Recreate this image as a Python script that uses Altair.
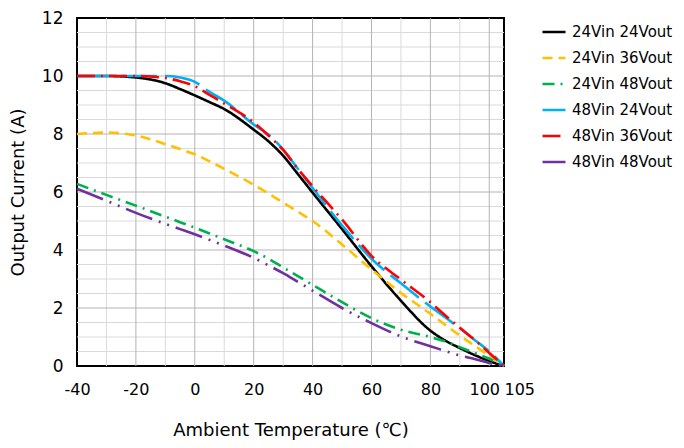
import altair as alt
import pandas as pd

# Ambient temperature (°C) sample points
temps = [-40, -30, -20, -10, -5, 0, 5, 10, 20, 25, 30, 35, 40, 50, 60, 70, 80, 85, 90, 95, 100, 105]

# Output current (A) per series
i_24in_24out = [10, 10, 9.95, 9.75, 9.55, 9.33, 9.1, 8.86, 8.15, 7.75, 7.25, 6.62, 5.98, 4.72, 3.44, 2.25, 1.22, 0.88, 0.62, 0.38, 0.17, 0]
i_24in_36out = [8.0, 8.05, 7.95, 7.65, 7.48, 7.3, 7.06, 6.8, 6.25, 5.95, 5.63, 5.32, 5.0, 4.19, 3.33, 2.52, 1.8, 1.42, 1.05, 0.7, 0.35, 0]
i_24in_48out = [6.28, 5.9, 5.53, 5.15, 4.96, 4.77, 4.57, 4.37, 3.96, 3.7, 3.4, 3.1, 2.8, 2.2, 1.65, 1.25, 1.0, 0.85, 0.65, 0.45, 0.25, 0]
i_48in_24out = [10, 10, 10, 10, 9.95, 9.8, 9.45, 9.15, 8.33, 7.98, 7.46, 6.8, 6.14, 4.85, 3.7, 2.85, 2.05, 1.68, 1.3, 0.9, 0.5, 0]
i_48in_36out = [10, 10, 10, 9.93, 9.82, 9.65, 9.35, 9.05, 8.4, 7.95, 7.45, 6.8, 6.2, 5.05, 3.8, 2.98, 2.2, 1.75, 1.32, 0.9, 0.45, 0]
i_48in_48out = [6.11, 5.7, 5.28, 4.9, 4.72, 4.54, 4.35, 4.15, 3.73, 3.47, 3.2, 2.9, 2.6, 2.0, 1.48, 1.02, 0.68, 0.52, 0.36, 0.24, 0.1, 0]

series_names = ["24Vin 24Vout", "24Vin 36Vout", "24Vin 48Vout",
                "48Vin 24Vout", "48Vin 36Vout", "48Vin 48Vout"]
series_values = [i_24in_24out, i_24in_36out, i_24in_48out,
                 i_48in_24out, i_48in_36out, i_48in_48out]
series_colors = ["#000000", "#FFC000", "#00B050", "#00B0F0", "#FF0000", "#7030A0"]
series_dashes = [[1, 0], [10, 6], [12, 6, 2, 6], [36, 8], [18, 6, 2, 6], [28, 7, 2, 7, 2, 7]]

# Axis ticks and grid lines
x_ticks = [-40, -20, 0, 20, 40, 60, 80, 100, 105]
y_ticks = [0, 2, 4, 6, 8, 10, 12]
x_major_grid = [-20, 0, 20, 40, 60, 80, 100]
x_minor_grid = [-30, -10, 10, 30, 50, 70, 90]
y_major_grid = [2, 4, 6, 8, 10]
y_minor_grid = [0.5, 1, 1.5, 2.5, 3, 3.5, 4.5, 5, 5.5, 6.5, 7, 7.5, 8.5, 9, 9.5, 10.5, 11, 11.5]

rows = []
for name, vals in zip(series_names, series_values):
    for t, v in zip(temps, vals):
        rows.append({"T": t, "I": v, "series": name, "order": series_names.index(name)})
df = pd.DataFrame(rows)

FONT = "DejaVu Sans"

x_scale = alt.Scale(domain=[-40, 105], nice=False, zero=False)
y_scale = alt.Scale(domain=[0, 12], nice=False)

x_axis = alt.Axis(
    values=x_ticks, title="Ambient Temperature (℃)", grid=False, ticks=False, domain=False,
    labelExpr="'' + datum.value",
    labelFontSize=16, labelFont=FONT, labelColor="black", labelPadding=15,
    labelOverlap=False, labelFlush=False, labelBound=False,
    labelAlign={"condition": {"test": "datum.value == 105", "value": "left"}, "value": "center"},
    labelOffset={"condition": {"test": "datum.value == 100", "value": -5}, "value": 0},
    titleFontSize=18, titleFont=FONT, titleFontWeight="normal", titleColor="black",
    titleBaseline="middle", titleY=64,
)
y_axis = alt.Axis(
    values=y_ticks, format="d", title="Output Current (A)", grid=False, ticks=False, domain=False,
    labelFontSize=17, labelFont=FONT, labelColor="black", labelPadding=14,
    labelOverlap=False,
    titleFontSize=18, titleFont=FONT, titleFontWeight="normal", titleColor="black",
    titleBaseline="middle", titleX=-59, titleY=174, titleAngle=270,
)

x_enc = alt.X("T:Q", scale=x_scale, axis=x_axis)
y_enc = alt.Y("I:Q", scale=y_scale, axis=y_axis)

def vrules(vals, color):
    return alt.Chart(pd.DataFrame({"T": vals})).mark_rule(color=color, strokeWidth=1).encode(x=x_enc)

def hrules(vals, color):
    return alt.Chart(pd.DataFrame({"I": vals})).mark_rule(color=color, strokeWidth=1).encode(y=y_enc)

legend = alt.Legend(
    orient="none", legendX=464, legendY=1, title=None, symbolType="stroke",
    symbolSize=529, symbolStrokeWidth=2.5, labelFontSize=15, labelFont=FONT,
    labelColor="black", rowPadding=5, labelOffset=5, padding=0, labelLimit=0,
)

lines = alt.Chart(df).mark_line(strokeWidth=2.6, interpolate="monotone").encode(
    x=x_enc,
    y=y_enc,
    color=alt.Color("series:N", scale=alt.Scale(domain=series_names, range=series_colors), legend=legend),
    strokeDash=alt.StrokeDash("series:N", scale=alt.Scale(domain=series_names, range=series_dashes), legend=legend),
    order=alt.Order("order:Q"),
)

chart = alt.layer(
    vrules(x_minor_grid, "#DADADA"),
    hrules(y_minor_grid, "#DADADA"),
    vrules(x_major_grid, "#B4B4B4"),
    hrules(y_major_grid, "#B4B4B4"),
    lines,
).properties(
    width=427, height=348,
    autosize=alt.AutoSizeParams(type="none"),
    padding={"left": 69, "top": 10, "right": 172, "bottom": 74},
).configure_view(stroke="black", strokeWidth=2)

chart.save("out.html", embed_options={"renderer": "svg", "actions": False})
